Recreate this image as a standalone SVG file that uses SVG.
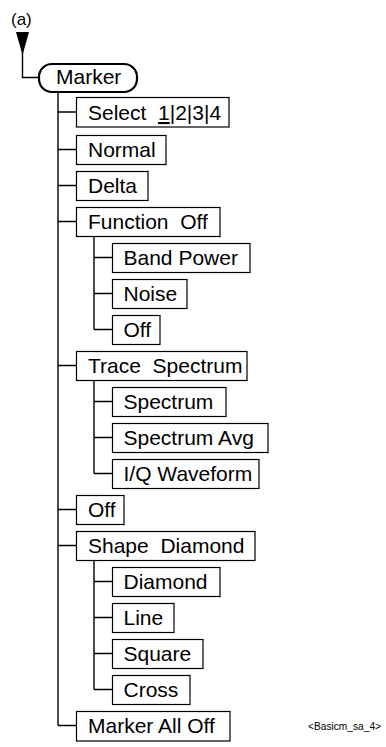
<svg xmlns="http://www.w3.org/2000/svg" width="386" height="747" viewBox="0 0 386 747">
<style>
  .box { fill: #fff; stroke: #000; stroke-width: 1.2; }
  .root { fill: #fff; stroke: #000; stroke-width: 2.2; }
  .t { font-family: "Liberation Sans", Arial, sans-serif; font-size: 21px; fill: #000; }
  .c { fill: none; stroke: #000; stroke-width: 1.4; }
</style>
<rect width="386" height="747" fill="#fff"/>
<g id="connectors">
  <polygon points="16,32 29,32 22.5,55" fill="#000"/>
  <path class="c" d="M22.5,32 V77.5 H39"/>
  <path class="c" d="M58,92 V725.5"/>
  <path class="c" d="M58,112 H76.5 M58,149.5 H76.5 M58,185.5 H76.5 M58,221.5 H76.5 M58,365.5 H76.5 M58,509.5 H76.5 M58,545.5 H76.5 M58,725.5 H76.5"/>
  <path class="c" d="M94,237 V329.5 M94,257.5 H112.5 M94,293.5 H112.5 M94,329.5 H112.5"/>
  <path class="c" d="M94,381 V473.5 M94,401.5 H112.5 M94,437.5 H112.5 M94,473.5 H112.5"/>
  <path class="c" d="M94,561 V689.5 M94,581.5 H112.5 M94,617.5 H112.5 M94,653.5 H112.5 M94,689.5 H112.5"/>
</g>
<g id="label-a"><text class="t" x="11" y="25" style="font-size:17px">(a)</text></g>
<g id="marker"><rect class="root" x="39" y="64" width="98" height="28" rx="13" ry="13"/><text class="t" x="56" y="84">Marker</text></g>
<g id="select"><rect class="box" x="76.5" y="97.5" width="152.5" height="29.5"/><text class="t" x="88" y="120" xml:space="preserve">Select  <tspan text-decoration="underline" style="text-decoration:underline">1</tspan>|2|3|4</text></g>
<g id="normal"><rect class="box" x="76.5" y="135.5" width="89.5" height="29"/><text class="t" x="88" y="156.5">Normal</text></g>
<g id="delta"><rect class="box" x="76.5" y="171.5" width="71.5" height="29"/><text class="t" x="88" y="192.5">Delta</text></g>
<g id="function-off"><rect class="box" x="76.5" y="207.5" width="143.5" height="29"/><text class="t" x="88" y="228.5" xml:space="preserve">Function  Off</text></g>
<g id="band-power"><rect class="box" x="112.5" y="243.5" width="137.5" height="29"/><text class="t" x="123.5" y="264.5">Band Power</text></g>
<g id="noise"><rect class="box" x="112.5" y="279.5" width="74.5" height="29"/><text class="t" x="123.5" y="300.5">Noise</text></g>
<g id="function-off-off"><rect class="box" x="112.5" y="315.5" width="47.5" height="29"/><text class="t" x="123.5" y="336.5">Off</text></g>
<g id="trace-spectrum"><rect class="box" x="76.5" y="351.5" width="170.5" height="29"/><text class="t" x="88" y="372.5" xml:space="preserve">Trace  Spectrum</text></g>
<g id="spectrum"><rect class="box" x="112.5" y="387.5" width="113.5" height="29"/><text class="t" x="123.5" y="408.5">Spectrum</text></g>
<g id="spectrum-avg"><rect class="box" x="112.5" y="423.5" width="155.5" height="29"/><text class="t" x="123.5" y="444.5">Spectrum Avg</text></g>
<g id="iq-waveform"><rect class="box" x="112.5" y="459.5" width="146.5" height="29"/><text class="t" x="123.5" y="480.5">I/Q Waveform</text></g>
<g id="off"><rect class="box" x="76.5" y="495.5" width="47.5" height="29"/><text class="t" x="88" y="516.5">Off</text></g>
<g id="shape-diamond"><rect class="box" x="76.5" y="531.5" width="178.5" height="29"/><text class="t" x="88" y="552.5" xml:space="preserve">Shape  Diamond</text></g>
<g id="diamond"><rect class="box" x="112.5" y="567.5" width="107.5" height="29"/><text class="t" x="123.5" y="588.5">Diamond</text></g>
<g id="line"><rect class="box" x="112.5" y="603.5" width="61.5" height="29"/><text class="t" x="123.5" y="624.5">Line</text></g>
<g id="square"><rect class="box" x="112.5" y="639.5" width="90.5" height="29"/><text class="t" x="123.5" y="660.5">Square</text></g>
<g id="cross"><rect class="box" x="112.5" y="675.5" width="77.5" height="29"/><text class="t" x="123.5" y="696.5">Cross</text></g>
<g id="marker-all-off"><rect class="box" x="76.5" y="711.5" width="153.5" height="29.5"/><text class="t" x="88" y="732.5">Marker All Off</text></g>
<g id="caption"><text x="308" y="730" style="font-family:'Liberation Sans', Arial, sans-serif;font-size:11px" textLength="73" lengthAdjust="spacingAndGlyphs">&lt;Basicm_sa_4&gt;</text></g>
</svg>
